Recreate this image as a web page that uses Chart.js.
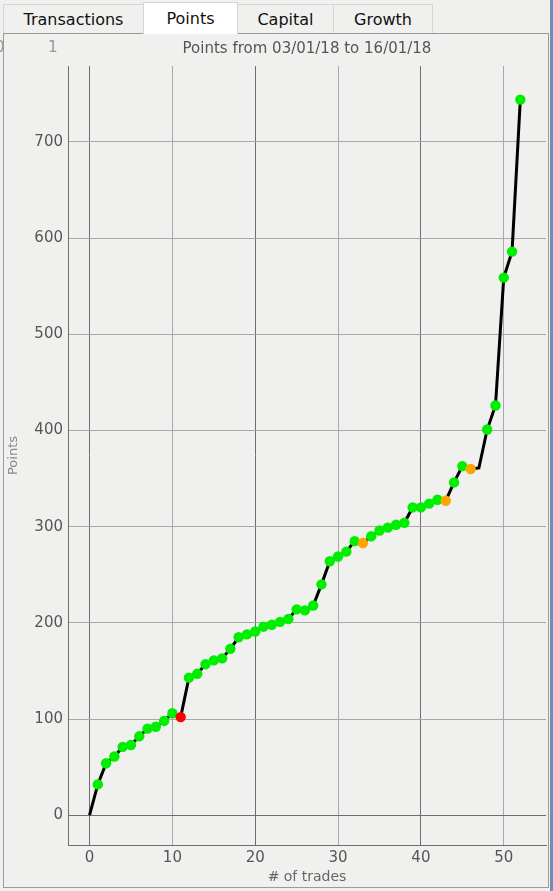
<!DOCTYPE html>
<html>
<head>
<meta charset="utf-8">
<script src="https://cdn.jsdelivr.net/npm/chart.js@4"></script>
<style>
  html, body { margin: 0; padding: 0; }
  body {
    width: 553px; height: 891px; position: relative; overflow: hidden;
    background: #f0f0ee; font-family: "DejaVu Sans", sans-serif;
  }
  .tabs { position: absolute; left: 3px; top: 3px; height: 31px; }
  .tab {
    position: absolute; top: 1px; height: 29px; line-height: 29px;
    text-align: center; font-size: 16px; color: #111;
    background: #f0f0ee; border: 1px solid #d6d6d6; border-bottom: none;
    box-sizing: border-box;
  }
  .tab.sel { top: -1px; height: 32px; background: #fff; line-height: 31px; z-index: 2; }
  .panel {
    position: absolute; left: 3px; top: 33px; width: 546px; height: 855px;
    border: 1px solid #9a9a9a; box-sizing: border-box;
  }
  .ghost { position: absolute; top: 38px; font-size: 15px; color: #999; }
  .edge { position: absolute; right: 0; top: 0; width: 3px; height: 891px; background: #6b8fb8; }
  #wrap { position: absolute; left: 4px; top: 35px; width: 543px; height: 851px; }
</style>
</head>
<body>
<div class="tabs">
  <div class="tab" style="left:0;width:141px">Transactions</div>
  <div class="tab sel" style="left:140px;width:95px">Points</div>
  <div class="tab" style="left:234px;width:97px">Capital</div>
  <div class="tab" style="left:330px;width:100px">Growth</div>
</div>
<div class="panel"></div>
<div class="ghost" style="left:-5px">0</div>
<div class="ghost" style="left:48px">1</div>
<div class="edge"></div>
<div id="wrap"><canvas id="myChart" width="543" height="851"></canvas></div>

<script>
// trade number on the x axis
const trades = [
    0, 1, 2, 3, 4, 5, 6, 7, 8, 9, 10, 11, 12, 13, 14, 15, 16, 17, 18, 19, 20,
    21, 22, 23, 24, 25, 26, 27, 28, 29, 30, 31, 32, 33, 34, 35, 36, 37, 38, 39,
    40, 41, 42, 43, 44, 45, 46, 47, 48, 49, 50, 51, 52
];

// cumulative points after each trade
const points = [
    0, 32, 54, 61, 71, 73, 82, 90, 92, 98, 106, 102, 143, 147, 157, 161, 163,
    173, 185, 188, 191, 196, 198, 201, 204, 214, 213, 218, 240, 264, 269, 274,
    285, 283, 290, 296, 299, 302, 304, 320, 320, 324, 328, 327, 346, 363, 360,
    361, 401, 426, 559, 586, 744
];

// trade outcome: w = win, l = loss, b = small loss, n = none
const outcome = [
    'n', 'w', 'w', 'w', 'w', 'w', 'w', 'w', 'w', 'w', 'w', 'l', 'w', 'w', 'w',
    'w', 'w', 'w', 'w', 'w', 'w', 'w', 'w', 'w', 'w', 'w', 'w', 'w', 'w', 'w',
    'w', 'w', 'w', 'b', 'w', 'w', 'w', 'w', 'w', 'w', 'w', 'w', 'w', 'b', 'w',
    'w', 'b', 'n', 'w', 'w', 'w', 'w', 'w'
];

const xTicks = [0, 10, 20, 30, 40, 50];
const yTicks = [0, 100, 200, 300, 400, 500, 600, 700];

const dotColor = { w: '#00ee00', l: '#ff0000', b: '#ffa500', n: 'rgba(0,0,0,0)' };

const ctx = document.getElementById('myChart').getContext('2d');

new Chart(ctx, {
    type: 'line',
    data: {
        datasets: [{
            data: trades.map((t, i) => ({ x: t, y: points[i] })),
            borderColor: '#000',
            borderWidth: 3,
            tension: 0,
            pointRadius: outcome.map(o => o === 'n' ? 0 : 5.2),
            pointBackgroundColor: outcome.map(o => dotColor[o]),
            pointBorderWidth: 0
        }]
    },
    options: {
        responsive: false,
        animation: false,
        layout: { autoPadding: false, padding: { top: 1, right: 1, left: 0, bottom: 0 } },
        plugins: {
            legend: { display: false },
            tooltip: { enabled: false },
            title: {
                display: true,
                text: 'Points from 03/01/18 to 16/01/18',
                fullSize: false,
                color: '#555',
                font: { family: 'DejaVu Sans', size: 15, weight: 'normal' },
                padding: { top: 4, bottom: 8 }
            }
        },
        scales: {
            x: {
                type: 'linear',
                min: -2.6,
                max: 55.1,
                afterBuildTicks: s => { s.ticks = xTicks.map(v => ({ value: v })); },
                afterFit: s => { s.height = 41; s.paddingLeft = 0; s.paddingRight = 0; },
                ticks: { color: '#555', padding: 4, font: { family: 'DejaVu Sans', size: 15 } },
                grid: {
                    drawTicks: false,
                    color: c => (c.tick && c.tick.value % 20 === 0) ? '#6e6e6e' : '#a8a8a8',
                    lineWidth: 1
                },
                border: { color: '#6e6e6e' },
                title: {
                    display: true,
                    text: '# of trades',
                    color: '#666',
                    padding: 0,
                    font: { family: 'DejaVu Sans', size: 14 }
                }
            },
            y: {
                type: 'linear',
                min: -31,
                max: 779,
                afterBuildTicks: s => { s.ticks = yTicks.map(v => ({ value: v })); },
                afterFit: s => { s.width = 64; s.paddingTop = 0; s.paddingBottom = 0; },
                ticks: { color: '#555', padding: 5, font: { family: 'DejaVu Sans', size: 15 } },
                grid: {
                    drawTicks: false,
                    color: c => (c.tick && c.tick.value === 0) ? '#6e6e6e' : '#a8a8a8',
                    lineWidth: 1
                },
                border: { color: '#6e6e6e' },
                title: {
                    display: true,
                    text: 'Points',
                    color: '#888',
                    padding: { top: 2, bottom: 0 },
                    font: { family: 'DejaVu Sans', size: 13 }
                }
            }
        }
    }
});
</script>
</body>
</html>
